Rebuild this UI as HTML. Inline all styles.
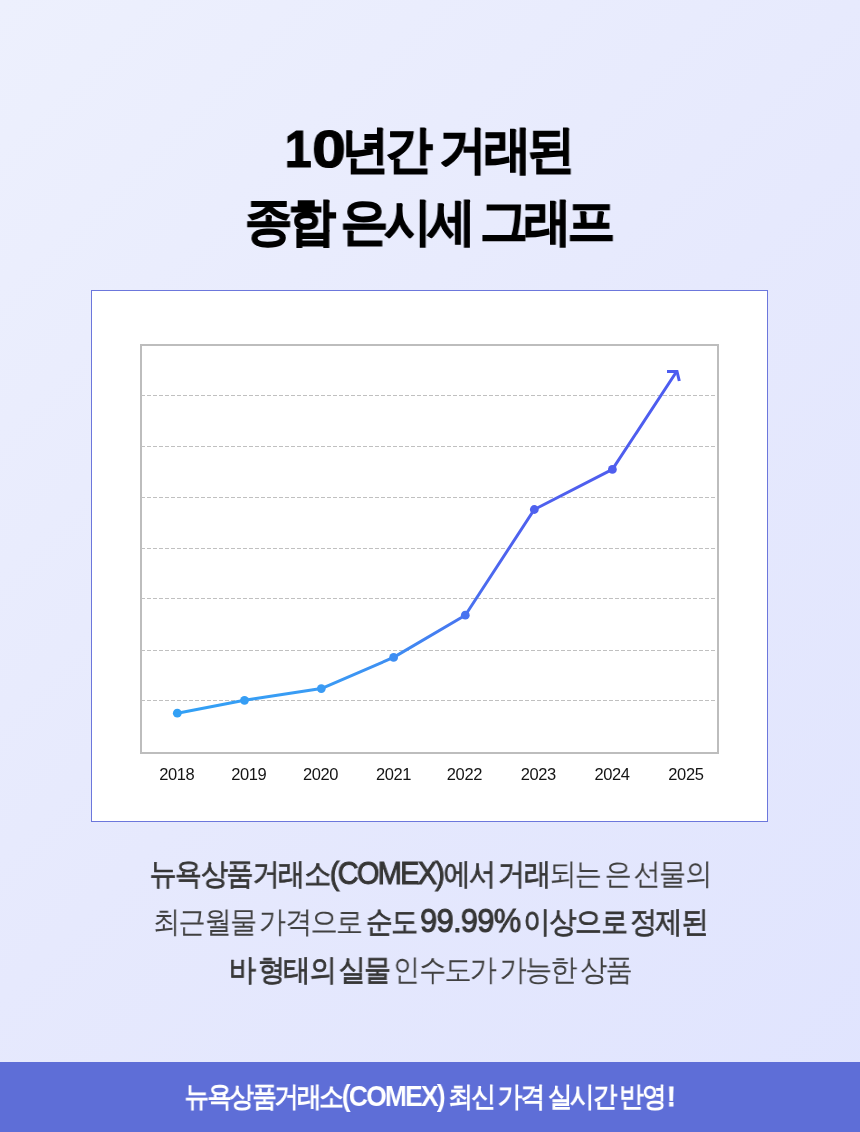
<!DOCTYPE html>
<html lang="ko"><head><meta charset="utf-8">
<style>
html,body{margin:0;padding:0;}
body{width:860px;height:1132px;overflow:hidden;position:relative;font-family:"Liberation Sans",sans-serif;
background:linear-gradient(135deg,#edf0fd 0%,#e6e9fd 50%,#e0e4fe 100%);}
.t{position:absolute;left:0;width:860px;text-align:center;white-space:nowrap;will-change:transform;}
#t1,#t2{font-size:51px;font-weight:700;color:#000;line-height:60px;transform:scaleX(0.93);-webkit-text-stroke:1.2px #000;}
#t1{left:0px;top:119px;letter-spacing:-3.6px;text-indent:-3.6px;}
.n{font-size:52px;letter-spacing:0px;}
.z{display:inline-block;transform:scaleX(1.25);margin:0 -1px 0 8px;}
#t2{top:192px;letter-spacing:-4.3px;text-indent:-4.3px;}
#card{position:absolute;left:91px;top:290px;width:675px;height:530px;background:#fff;border:1px solid #6c77dc;}
svg{position:absolute;left:0;top:0;will-change:transform;}
.p{font-size:30px;color:#404040;line-height:40px;letter-spacing:-1.54px;word-spacing:-3.2px;transform:scaleX(0.905);}
.p b{color:#363636;font-weight:400;-webkit-text-stroke:0.75px #363636;}
.p b i,.p b u{-webkit-text-stroke:1px #363636;}
.p i{font-style:normal;font-size:32px;letter-spacing:-1.9px;}
.p u{text-decoration:none;font-size:34px;letter-spacing:-0.75px;}
#p1{top:853px;}#p2{top:900px;}#p3{top:950px;}
#bar{position:absolute;left:0;top:1062px;width:860px;height:70px;background:#5e6ed7;}
#bt{top:1078px;font-size:28px;font-weight:700;color:#fff;line-height:36px;transform:scaleX(0.88);letter-spacing:-2.5px;text-indent:-2.5px;}
#bt i{font-style:normal;font-size:30px;letter-spacing:-2px;}
</style></head><body>
<div class="t" id="t1"><span class="n">1<span class="z">0</span></span>년간 거래된</div>
<div class="t" id="t2">종합 은시세 그래프</div>
<div id="card"></div>
<svg width="860" height="1132" viewBox="0 0 860 1132">
<defs>
<linearGradient id="lg" gradientUnits="userSpaceOnUse" x1="177" y1="0" x2="678" y2="0">
<stop offset="0" stop-color="#32a0f5"/><stop offset="0.287" stop-color="#3a9bf4"/><stop offset="0.431" stop-color="#3e8ef2"/><stop offset="0.575" stop-color="#4873f0"/><stop offset="0.66" stop-color="#4e62ee"/><stop offset="0.868" stop-color="#4f5eee"/><stop offset="1" stop-color="#4c5cf0"/>
</linearGradient>
</defs>
<rect x="141" y="345" width="577" height="408" fill="none" stroke="#bdbdbd" stroke-width="2"/>
<g stroke="#c0c0c0" stroke-width="1" stroke-dasharray="4 2">
<line x1="141" y1="395.5" x2="716" y2="395.5"/>
<line x1="141" y1="446.5" x2="716" y2="446.5"/>
<line x1="141" y1="497.5" x2="716" y2="497.5"/>
<line x1="141" y1="548.5" x2="716" y2="548.5"/>
<line x1="141" y1="598.5" x2="716" y2="598.5"/>
<line x1="141" y1="650.5" x2="716" y2="650.5"/>
<line x1="141" y1="700.5" x2="716" y2="700.5"/>
</g>
<polyline fill="none" stroke="url(#lg)" stroke-width="3" stroke-linejoin="round" points="177.3,713.2 244.5,700.3 321.3,688.6 393.6,657.4 465.3,615.2 534.3,509.5 612.4,469.4 676.3,372"/>
<polyline fill="none" stroke="#4c5cf0" stroke-width="3" stroke-linejoin="miter" points="667,371.5 677,371.5 679.3,381"/>
<g fill="url(#lg)">
<circle cx="177.3" cy="713.2" r="4.4"/><circle cx="244.5" cy="700.3" r="4.4"/><circle cx="321.3" cy="688.6" r="4.4"/>
<circle cx="393.6" cy="657.4" r="4.4"/><circle cx="465.3" cy="615.2" r="4.4"/><circle cx="534.3" cy="509.5" r="4.4"/>
<circle cx="612.4" cy="469.4" r="4.4"/>
</g>
<g font-family="Liberation Sans" font-size="16.5" letter-spacing="-0.4" fill="#141414" text-anchor="middle">
<text x="176.8" y="780">2018</text><text x="248.8" y="780">2019</text><text x="320.6" y="780">2020</text>
<text x="393.6" y="780">2021</text><text x="464.4" y="780">2022</text><text x="538.2" y="780">2023</text>
<text x="612.1" y="780">2024</text><text x="685.9" y="780">2025</text>
</g>
</svg>
<div class="t p" id="p1"><b>뉴욕상품거래소<i>(COMEX)</i>에서 거래</b>되는 은 선물의</div>
<div class="t p" id="p2">최근월물 가격으로 <b>순도 <u>99.99%</u> 이상으로 정제된</b></div>
<div class="t p" id="p3"><b>바 형태의 실물</b> 인수도가 가능한 상품</div>
<div id="bar"></div>
<div class="t" id="bt">뉴욕상품거래소<i>(COMEX)</i> 최신 가격 실시간 반영<span style="margin-left:3px;-webkit-text-stroke:0.8px #fff">!</span></div>
</body></html>
